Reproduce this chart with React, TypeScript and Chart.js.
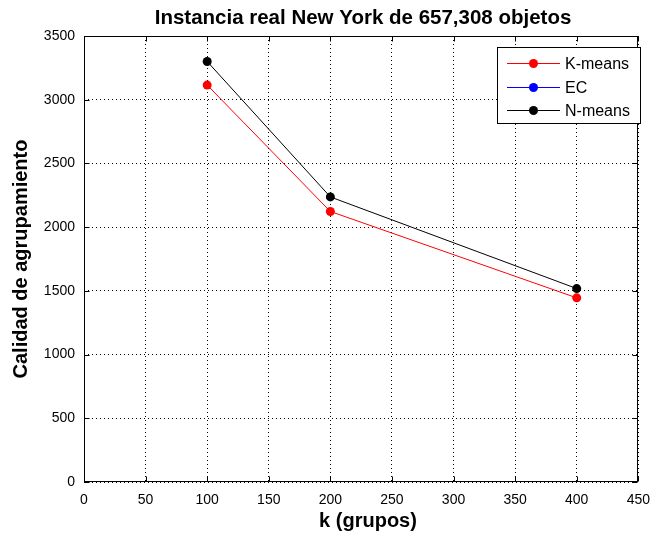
import React, { useEffect, useRef } from "react";
import { Chart, registerables } from "chart.js";

Chart.register(...registerables);

const kValues = [100, 200, 400];
const kmeansValues = [3115, 2123, 1445];
const ecValues = [3300, 2237, 1518];
const nmeansValues = [3300, 2237, 1518];
const xTickValues = [0, 50, 100, 150, 200, 250, 300, 350, 400, 450];
const yTickValues = [0, 500, 1000, 1500, 2000, 2500, 3000, 3500];
const seriesLabels = ["K-means", "EC", "N-means"];
const seriesColors = ["#ff0000", "#0000ff", "#000000"];
const titleText = "Instancia real New York de 657,308 objetos";
const xTitleText = "k (grupos)";
const yTitleText = "Calidad de agrupamiento";

const FONT = "Arial, 'Liberation Sans', sans-serif";

const decorPlugin = {
  id: "matlabDecor",
  afterDraw(chart: any) {
    const ctx = chart.ctx;
    const a = chart.chartArea;
    const xs = chart.scales.x;
    const ys = chart.scales.y;
    ctx.save();
    // border
    ctx.strokeStyle = "#000";
    ctx.lineWidth = 1;
    ctx.setLineDash([]);
    const L = Math.round(a.left) + 0.5;
    const R = Math.round(a.right) - 0.5;
    const T = Math.round(a.top) + 0.5;
    const B = Math.round(a.bottom) - 0.5;
    ctx.strokeRect(L, T, R - L, B - T);
    // inner ticks
    const tl = 5;
    ctx.beginPath();
    xTickValues.forEach((v) => {
      const px = Math.round(xs.getPixelForValue(v)) + 0.5;
      ctx.moveTo(px, B);
      ctx.lineTo(px, B - tl);
      ctx.moveTo(px, T);
      ctx.lineTo(px, T + tl);
    });
    yTickValues.forEach((v) => {
      const py = Math.round(ys.getPixelForValue(v)) + 0.5;
      ctx.moveTo(L, py);
      ctx.lineTo(L + tl, py);
      ctx.moveTo(R, py);
      ctx.lineTo(R - tl, py);
    });
    ctx.stroke();

    // legend
    const lx = 497.5, ly = 47.5, lw = 143, lh = 76;
    ctx.fillStyle = "#fff";
    ctx.fillRect(lx, ly, lw, lh);
    ctx.strokeStyle = "#000";
    ctx.strokeRect(lx, ly, lw, lh);
    const rows = [63, 87, 110];
    ctx.font = `16px ${FONT}`;
    ctx.textBaseline = "middle";
    ctx.textAlign = "left";
    seriesLabels.forEach((lab, i) => {
      const y = rows[i] + 0.5;
      ctx.strokeStyle = seriesColors[i];
      ctx.lineWidth = 1;
      ctx.beginPath();
      ctx.moveTo(507, y);
      ctx.lineTo(560, y);
      ctx.stroke();
      ctx.fillStyle = seriesColors[i];
      ctx.beginPath();
      ctx.arc(533.5, y, 4.5, 0, Math.PI * 2);
      ctx.fill();
      ctx.fillStyle = "#000";
      ctx.fillText(lab, 565, y + 1);
    });

    // title
    ctx.fillStyle = "#000";
    ctx.font = `bold 20.5px ${FONT}`;
    ctx.textAlign = "center";
    ctx.textBaseline = "alphabetic";
    ctx.fillText(titleText, 363, 24);
    // x title
    ctx.font = `bold 20px ${FONT}`;
    ctx.fillText(xTitleText, 368, 527);
    // y title
    ctx.translate(27, 259);
    ctx.rotate(-Math.PI / 2);
    ctx.fillText(yTitleText, 0, 0);
    ctx.restore();
  },
};

export default function App() {
  const ref = useRef<HTMLCanvasElement | null>(null);
  useEffect(() => {
    document.body.style.margin = "0";
    const canvas = ref.current;
    if (!canvas) return;
    const allValues = [kmeansValues, ecValues, nmeansValues];
    const orders = [3, 2, 1];
    const chart = new Chart(canvas, {
      type: "scatter",
      data: {
        datasets: seriesLabels.map((lab, i) => ({
          label: lab,
          data: kValues.map((k, j) => ({ x: k, y: allValues[i][j] })),
          showLine: true,
          borderColor: seriesColors[i],
          backgroundColor: seriesColors[i],
          pointBackgroundColor: seriesColors[i],
          pointBorderWidth: 0,
          pointRadius: 4.5,
          borderWidth: 1,
          order: orders[i],
          // EC coincides with N-means and is fully covered in the reference
          hidden: lab === "EC",
        })),
      },
      options: {
        animation: false,
        responsive: false,
        devicePixelRatio: 1,
        layout: { padding: { top: 36, right: 14, left: 0, bottom: 0 } },
        plugins: {
          legend: { display: false },
          title: { display: false },
          tooltip: { enabled: false },
        },
        scales: {
          x: {
            type: "linear",
            min: 0,
            max: 450,
            afterBuildTicks: (s: any) => {
              s.ticks = xTickValues.map((v) => ({ value: v }));
            },
            afterFit: (s: any) => {
              s.height = 51;
            },
            ticks: {
              color: "#000",
              font: { family: FONT, size: 14 },
              padding: 10,
              maxRotation: 0,
              autoSkip: false,
              callback: (v: any) => String(v),
            },
            grid: { color: "#000", lineWidth: 1, drawTicks: false },
            border: { display: false, dash: [1, 3] },
          },
          y: {
            type: "linear",
            min: 0,
            max: 3500,
            afterBuildTicks: (s: any) => {
              s.ticks = yTickValues.map((v) => ({ value: v }));
            },
            afterFit: (s: any) => {
              s.width = 84;
            },
            ticks: {
              color: "#000",
              font: { family: FONT, size: 14 },
              padding: 9,
              autoSkip: false,
              callback: (v: any) => String(v),
            },
            grid: { color: "#000", lineWidth: 1, drawTicks: false },
            border: { display: false, dash: [1, 3] },
          },
        },
      },
      plugins: [decorPlugin],
    } as any);
    return () => chart.destroy();
  }, []);
  return (
    <div style={{ width: 660, height: 533, background: "#fff" }}>
      <canvas ref={ref} width={660} height={533} style={{ width: 660, height: 533, display: "block" }} />
    </div>
  );
}
